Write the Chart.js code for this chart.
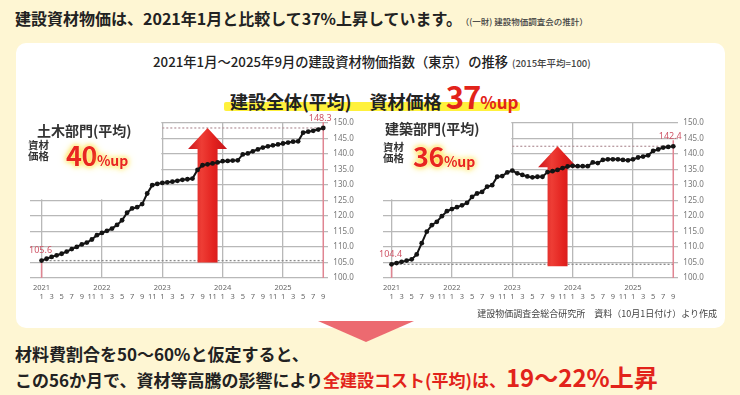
<!DOCTYPE html>
<html lang="ja">
<head>
<meta charset="utf-8">
<script src="https://cdn.jsdelivr.net/npm/chart.js@4.4.0/dist/chart.umd.min.js"></script>
<style>
    body { margin: 0; width: 740px; height: 395px; background: #fef6d3; position: relative; overflow: hidden;
           font-family: "Noto Sans CJK JP", "Noto Sans", sans-serif; color: #222; }
    .abs { position: absolute; white-space: nowrap; }
    #panel { left: 16px; top: 43px; width: 709px; height: 285px; background: #fff; border-radius: 10px; }
    #head { left: 15px; top: 9px; font-size: 16px; line-height: 18px; font-weight: 700; }
    #head small { font-size: 8.5px; font-weight: 500; color: #444; margin-left: 3px; }
    #title { left: 153px; top: 54px; font-size: 13.3px; line-height: 16px; font-weight: 500; }
    #title small { font-size: 9.5px; color: #444; margin-left: 4px; }
    #band { left: 224px; top: 102px; width: 296px; height: 9px; background: #fff13c; border-radius: 2px; }
    #total { left: 230px; top: 78px; font-size: 18px; line-height: 36px; font-weight: 700; }
    .red { color: #e2231a; }
    #total .big { font-size: 31px; letter-spacing: -1px; }
    #total .pct { font-size: 17px; }
    canvas { position: absolute; }
    .lab { font-size: 14px; font-weight: 700; color: #333; line-height: 16px; }
    .zai { font-size: 10.5px; font-weight: 700; line-height: 11px; color: #333; }
    .up { font-weight: 700; color: #e8251f; line-height: 30px;
          text-shadow: 0 0 2px #fff, 0 0 5px #ffd400, 0 0 9px #ffe45c; }
    .up .n { font-size: 27px; letter-spacing: -0.5px; }
    .up .p { font-size: 14px; }
    #tri { left: 318px; top: 321px; width: 0; height: 0; border-left: 48px solid transparent;
           border-right: 48px solid transparent; border-top: 21px solid #ec6a70; }
    #src { right: 23px; top: 308px; font-size: 9px; color: #444; line-height: 11px; }
    #l1 { left: 15px; top: 344px; font-size: 17px; line-height: 19px; font-weight: 700; }
    #l2 { left: 15px; top: 363px; font-size: 17px; line-height: 28px; font-weight: 700; }
    #l2 .big { font-size: 24px; }
</style>
</head>
<body>
<div class="abs" id="head">建設資材物価は、2021年1月と比較して37%上昇しています。<small>（(一財) 建設物価調査会の推計）</small></div>
<div class="abs" id="panel"></div>
<div class="abs" id="title">2021年1月～2025年9月の建設資材物価指数（東京）の推移<small>(2015年平均=100)</small></div>
<div class="abs" id="band"></div>
<div class="abs" id="total">建設全体(平均)　資材価格 <span class="red big">37</span><span class="red pct">%up</span></div>

<canvas id="civil" width="345" height="200" style="left:20px; top:110px;"></canvas>
<canvas id="building" width="345" height="200" style="left:370px; top:110px;"></canvas>

<div class="abs lab" style="left:37px; top:122px;">土木部門(平均)</div>
<div class="abs zai" style="left:28px; top:139px;">資材<br>価格</div>
<div class="abs up" style="left:66px; top:140px;"><span class="n">40</span><span class="p">%up</span></div>

<div class="abs lab" style="left:385px; top:120px;">建築部門(平均)</div>
<div class="abs zai" style="left:383px; top:141px;">資材<br>価格</div>
<div class="abs up" style="left:413px; top:141px;"><span class="n">36</span><span class="p">%up</span></div>

<div class="abs" id="src">建設物価調査会総合研究所　資料（10月1日付け）より作成</div>
<div class="abs" id="tri"></div>
<div class="abs" id="l1">材料費割合を50～60%と仮定すると、</div>
<div class="abs" id="l2">この56か月で、資材等高騰の影響により<span class="red">全建設コスト(平均)は、</span><span class="red big">19～22%上昇</span></div>

<script>
// 2021年1月〜2025年9月 の月次指数 (2015年平均=100)
var firstYear = 2021;
var monthTicks = [1, 3, 5, 7, 9, 11];
var yTicks = [100, 105, 110, 115, 120, 125, 130, 135, 140, 145, 150];

// 土木部門(平均)
var civilIndex = [
    105.6, 106.2, 106.8, 107.3, 107.8, 108.5, 109.3, 110.0, 110.8, 111.4, 112.4, 113.8,
    114.5, 115.2, 115.9, 117.1, 118.6, 121.0, 122.4, 122.8, 123.8, 127.2, 129.9, 130.3,
    130.6, 130.8, 131.0, 131.3, 131.6, 131.8, 132.0, 134.8, 136.3, 136.6, 136.9, 137.2,
    137.6, 137.7, 137.8, 137.9, 139.8, 140.1, 140.8, 141.4, 142.0, 142.4, 142.7, 143.0,
    143.3, 143.6, 143.9, 144.0, 146.8, 147.1, 147.4, 147.8, 148.3
];

// 建築部門(平均)
var buildingIndex = [
    104.4, 104.8, 105.2, 105.6, 106.0, 107.6, 111.2, 114.9, 117.0, 118.1, 119.9, 121.5,
    122.2, 122.8, 123.4, 124.2, 126.1, 127.2, 127.7, 129.4, 129.9, 132.6, 132.8, 134.0,
    134.6, 133.7, 133.2, 132.7, 132.4, 132.6, 132.6, 134.1, 134.4, 134.8, 135.4, 135.9,
    136.1, 136.0, 136.0, 136.0, 137.2, 137.0, 138.0, 138.2, 138.2, 138.2, 138.0, 137.9,
    138.2, 138.8, 139.1, 139.5, 140.9, 141.4, 142.0, 142.2, 142.4
];

var arrowMonth = 33;   // 2023年10月 あたり
var blankUntil = 24;   // 2023年1月より左上は文字の場所
var blankAbove = 125;

var gridColor = '#b8b8b8';

var decorPlugin = {
    id: 'decor',
    beforeDatasetsDraw: function (chart) {
        var ctx = chart.ctx, a = chart.chartArea, xs = chart.scales.x, ys = chart.scales.y;
        var pts = chart.data.datasets[0].data;
        var last = pts.length - 1;
        var x0 = xs.getPixelForValue(0), x1 = xs.getPixelForValue(last);
        var y0 = ys.getPixelForValue(pts[0].y), y1 = ys.getPixelForValue(pts[last].y);

        ctx.save();
        // ラベル部分は罫線を消す
        ctx.fillStyle = '#fff';
        ctx.fillRect(a.left - 2, a.top - 2,
            xs.getPixelForValue(blankUntil) - 1 - (a.left - 2),
            ys.getPixelForValue(blankAbove) - 1 - (a.top - 2));

        // 始点・終点の点線
        ctx.lineWidth = 1.3;
        ctx.setLineDash([2, 2]);
        ctx.strokeStyle = '#8a8a8a';
        ctx.beginPath();
        ctx.moveTo(x0, y0);
        ctx.lineTo(x1, y0);
        ctx.stroke();
        ctx.strokeStyle = '#b89aa0';
        ctx.beginPath();
        ctx.moveTo(xs.getPixelForValue(blankUntil), y1);
        ctx.lineTo(x1, y1);
        ctx.stroke();

        // 縦の線
        ctx.setLineDash([]);
        ctx.lineWidth = 1.5;
        ctx.strokeStyle = '#e08592';
        ctx.beginPath();
        ctx.moveTo(x0, a.bottom);
        ctx.lineTo(x0, y0);
        ctx.moveTo(x1, a.bottom);
        ctx.lineTo(x1, y1 - 6);
        ctx.stroke();

        // 矢印
        var cx = xs.getPixelForValue(arrowMonth);
        var sw = 10, hw = 19.5, hh = 21;
        var g = ctx.createLinearGradient(cx - hw, 0, cx + hw, 0);
        g.addColorStop(0, '#cc161d');
        g.addColorStop(0.35, '#ee3d35');
        g.addColorStop(0.65, '#e3221f');
        g.addColorStop(1, '#c4141a');
        ctx.fillStyle = g;
        ctx.beginPath();
        ctx.moveTo(cx, y1);
        ctx.lineTo(cx + hw, y1 + hh);
        ctx.lineTo(cx + sw, y1 + hh);
        ctx.lineTo(cx + sw, y0 + 2);
        ctx.lineTo(cx - sw, y0 + 2);
        ctx.lineTo(cx - sw, y1 + hh);
        ctx.lineTo(cx - hw, y1 + hh);
        ctx.closePath();
        ctx.fill();
        ctx.restore();
    },
    afterDatasetsDraw: function (chart) {
        var ctx = chart.ctx, xs = chart.scales.x, ys = chart.scales.y;
        var pts = chart.data.datasets[0].data;
        var last = pts.length - 1;
        ctx.save();
        ctx.font = '9px "Noto Sans", sans-serif';
        ctx.fillStyle = '#cf5466';
        ctx.textAlign = 'center';
        ctx.textBaseline = 'middle';
        ctx.fillText(pts[0].y.toFixed(1), xs.getPixelForValue(0) - 1, ys.getPixelForValue(pts[0].y) - 10);
        ctx.fillText(pts[last].y.toFixed(1), xs.getPixelForValue(last) - 3, ys.getPixelForValue(pts[last].y) - 10);
        ctx.restore();
    }
};

function makeChart(id, values, xMin, padLeft) {
    var data = values.map(function (v, i) { return { x: i, y: v }; });
    return new Chart(document.getElementById(id), {
        type: 'line',
        data: {
            datasets: [{
                data: data,
                borderColor: '#141414',
                borderWidth: 2,
                pointRadius: 2.4,
                pointBackgroundColor: '#141414',
                pointBorderWidth: 0,
                tension: 0
            }]
        },
        options: {
            responsive: false,
            animation: false,
            layout: { padding: { left: padLeft, right: 4.7, top: 12.7, bottom: 8 } },
            plugins: { legend: { display: false }, tooltip: { enabled: false } },
            scales: {
                x: {
                    type: 'linear',
                    min: xMin,
                    max: 57,
                    afterBuildTicks: function (scale) {
                        var t = [];
                        for (var i = 0; i < values.length; i++) {
                            if (monthTicks.indexOf(i % 12 + 1) >= 0) t.push({ value: i });
                        }
                        scale.ticks = t;
                    },
                    afterFit: function (scale) { scale.height = 24; },
                    border: { display: false },
                    grid: {
                        drawTicks: false,
                        lineWidth: 1.3,
                        color: function (c) {
                            return c.tick && c.tick.value % 12 === 0 ? gridColor : 'rgba(0,0,0,0)';
                        }
                    },
                    ticks: {
                        autoSkip: false,
                        maxRotation: 0,
                        padding: 5,
                        color: '#666',
                        font: { size: 7.5, family: '"Noto Sans", sans-serif' },
                        callback: function (v) {
                            var year = v % 12 === 0 ? String(firstYear + v / 12) : '';
                            return [year, String(v % 12 + 1)];
                        }
                    }
                },
                y: {
                    position: 'right',
                    min: 100,
                    max: 150,
                    afterBuildTicks: function (scale) {
                        scale.ticks = yTicks.map(function (v) { return { value: v }; });
                    },
                    afterFit: function (scale) { scale.width = 32; },
                    border: { display: false },
                    grid: { drawTicks: false, lineWidth: 1.3, color: gridColor },
                    ticks: {
                        padding: 5,
                        color: '#777',
                        font: { size: 8, family: '"Noto Sans", sans-serif' },
                        callback: function (v) { return v.toFixed(1); }
                    }
                }
            }
        },
        plugins: [decorPlugin]
    });
}

makeChart('civil', civilIndex, -2.3, 10);
makeChart('building', buildingIndex, -1.7, 13);
</script>
</body>
</html>
